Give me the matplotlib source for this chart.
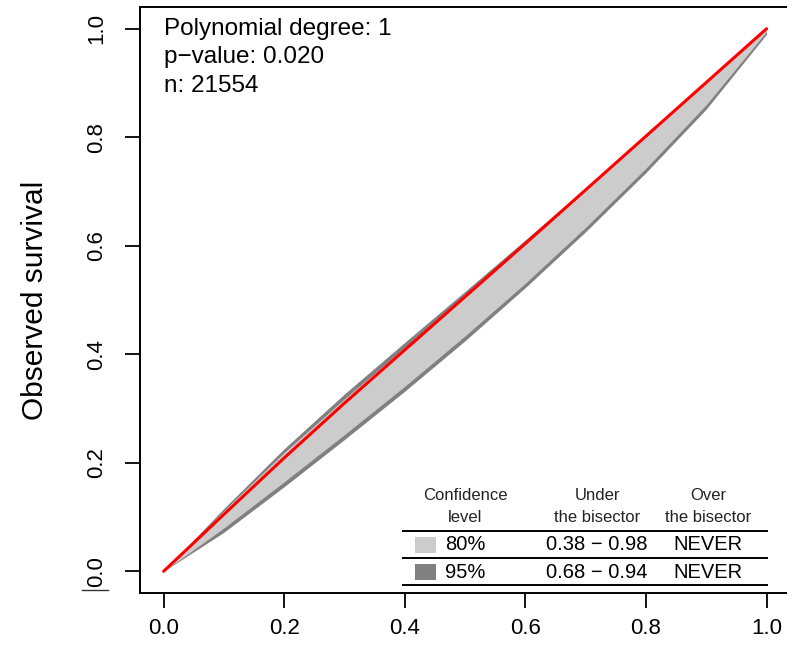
import matplotlib
matplotlib.use('Agg')
import matplotlib.pyplot as plt
from matplotlib.lines import Line2D
import numpy as np

plt.rcParams['font.family'] = ['Liberation Sans', 'DejaVu Sans']

# ---- calibration curve and confidence bands ----
pred = [0.0, 0.1, 0.2, 0.3, 0.4, 0.5, 0.6, 0.7, 0.8, 0.9, 1.0]
obs = [0.0, 0.105, 0.209, 0.31, 0.408, 0.506, 0.604, 0.703, 0.802, 0.901, 1.0]
upper95 = [0.0, 0.116, 0.226, 0.327, 0.422, 0.516, 0.611, 0.707, 0.804, 0.902, 1.0]
upper80 = [0.0, 0.112, 0.219, 0.318, 0.413, 0.509, 0.606, 0.704, 0.802, 0.901, 1.0]
lower80 = [0.0, 0.08, 0.165, 0.252, 0.341, 0.434, 0.531, 0.634, 0.743, 0.86, 0.995]
lower95 = [0.0, 0.072, 0.156, 0.243, 0.332, 0.425, 0.523, 0.626, 0.735, 0.852, 0.99]

info_lines = ['Polynomial degree: 1', 'p\u2212value: 0.020', 'n: 21554']

# ---- summary table ----
tab_header = [('Confidence', 'level'), ('Under', 'the bisector'), ('Over', 'the bisector')]
tab_levels = ['80%', '95%']
tab_under = ['0.38 \u2212 0.98', '0.68 \u2212 0.94']
tab_over = ['NEVER', 'NEVER']
tab_colors = ['#cccccc', '#808080']

W, H = 787, 656
fig = plt.figure(figsize=(W/100, H/100), dpi=100)
left, right, bottom, top = 139.5, 790.7, 593, 7
ax = fig.add_axes([left/W, 1-bottom/H, (right-left)/W, (bottom-top)/H])

ax.fill_between(pred, lower95, upper95, color='#808080', lw=0)
ax.fill_between(pred, lower80, upper80, color='#cccccc', lw=0)
ax.plot(pred, obs, color='red', lw=2.2, solid_capstyle='round')

ax.set_xlim(-0.04, 1.04)
ax.set_ylim(-0.04, 1.04)
ticks = [0.0, 0.2, 0.4, 0.6, 0.8, 1.0]
ax.set_xticks(ticks)
ax.set_yticks(ticks)
ax.set_xticklabels(['%.1f' % t for t in ticks])
ax.set_yticklabels(['%.1f' % t for t in ticks], rotation=90, va='center')
ax.tick_params(direction='out', length=11, width=1.3, labelsize=16, color='black')
ax.tick_params(axis='x', pad=7)
ax.tick_params(axis='y', pad=12)
for s in ax.spines.values():
    s.set_linewidth(1.4)
ax.set_ylabel('Observed survival', fontsize=21.5, labelpad=27)

for i, t in enumerate(info_lines):
    ax.text(0.0, 1.0 - i*0.0525, t, fontsize=17.5, ha='left', va='center')

# table, placed in axes fraction
def px2ax(xp, yp):
    return (xp-left)/(right-left), (bottom-yp)/(bottom-top)

col_x = [465, 597, 708]
for cx, (h1, h2) in zip(col_x, tab_header):
    for yp, t in ((495, h1), (518, h2)):
        ax.text(*px2ax(cx, yp), t, transform=ax.transAxes, fontsize=12,
                ha='center', va='center', color='#222222')

for yp in (531, 558, 585):
    x0, y0 = px2ax(403, yp)
    x1, _ = px2ax(767, yp)
    ax.plot([x0, x1], [y0, y0], transform=ax.transAxes, color='black', lw=1.4,
            clip_on=False)

for i, yp in enumerate((545, 572)):
    sx, sy = px2ax(415, yp+8)
    sw = 21/(right-left)
    sh = 16/(bottom-top)
    ax.add_patch(plt.Rectangle((sx, sy), sw, sh, transform=ax.transAxes,
                               color=tab_colors[i], lw=0))
    ax.text(*px2ax(col_x[0], yp), tab_levels[i], transform=ax.transAxes,
            fontsize=14.5, ha='center', va='center')
    ax.text(*px2ax(col_x[1], yp), tab_under[i], transform=ax.transAxes,
            fontsize=14.5, ha='center', va='center')
    ax.text(*px2ax(col_x[2], yp), tab_over[i], transform=ax.transAxes,
            fontsize=14.5, ha='center', va='center')

fig.add_artist(Line2D([82/W, 108/W], [1-590/H, 1-590/H], color='#333333', lw=1.0))

fig.savefig('out.png', dpi=100)
